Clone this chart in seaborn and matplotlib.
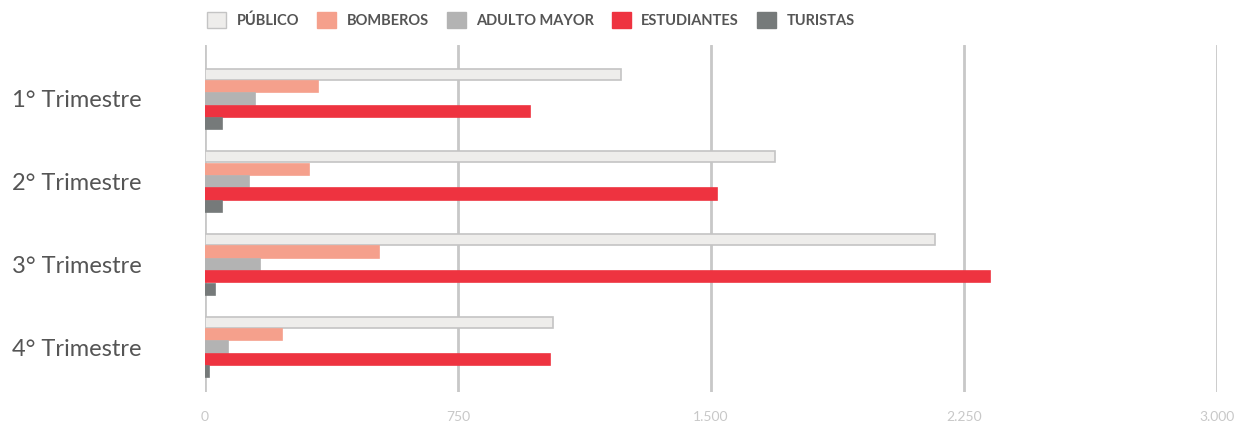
import matplotlib
matplotlib.use("Agg")
import matplotlib.pyplot as plt
from matplotlib.patches import Patch
import pandas as pd
import seaborn as sns

# Datos
trimestres = ["1° Trimestre", "2° Trimestre", "3° Trimestre", "4° Trimestre"]
series = ["PÚBLICO", "BOMBEROS", "ADULTO MAYOR", "ESTUDIANTES", "TURISTAS"]
publico = [1233, 1690, 2164, 1032]
bomberos = [335, 308, 516, 228]
adulto_mayor = [148, 130, 163, 68]
estudiantes = [963, 1518, 2327, 1023]
turistas = [50, 50, 30, 12]

colores = ["#EEEDEB", "#F5A08C", "#B3B3B3", "#EE3340", "#767A7A"]
bordes = ["#C4C4C4", "#F5A08C", "#B3B3B3", "#EE3340", "#767A7A"]
ticks = [0, 750, 1500, 2250, 3000]
tick_labels = ["0", "750", "1.500", "2.250", "3.000"]

valores = [publico, bomberos, adulto_mayor, estudiantes, turistas]
df = pd.DataFrame([
    {"trimestre": t, "serie": s, "valor": v[i]}
    for s, v in zip(series, valores)
    for i, t in enumerate(trimestres)
])

sns.set_theme(style="white")
plt.rcParams["font.family"] = ["Lato", "DejaVu Sans"]

fig = plt.figure(figsize=(12.37, 4.25), dpi=100)
ax = fig.add_axes([205 / 1237, 1 - 392 / 425, 1012 / 1237, 347 / 425])

sns.barplot(data=df, x="valor", y="trimestre", hue="serie", order=trimestres,
            hue_order=series, palette=colores, orient="h", width=0.75,
            gap=0.1, saturation=1, legend=False, ax=ax, zorder=3)

# bordes de las barras por serie
for cont, borde in zip(ax.containers, bordes):
    for bar in cont:
        bar.set_edgecolor(borde)
        bar.set_linewidth(1.2)

ax.set_xlim(0, 3000)
ax.set_ylim(3.544, -0.653)
ax.set_xticks(ticks)
ax.set_xticklabels(tick_labels)
ax.grid(axis="x", color="#C8C8C8", linewidth=2)
ax.grid(axis="y", visible=False)
ax.set_axisbelow(True)
for sp in ax.spines.values():
    sp.set_visible(False)

ax.set_xlabel("")
ax.set_ylabel("")
ax.tick_params(axis="x", length=0, pad=14, labelsize=10, labelcolor="#C8C8C8")
ax.tick_params(axis="y", length=0, pad=0, labelsize=17, labelcolor="#555555")
for lbl in ax.get_yticklabels():
    lbl.set_horizontalalignment("left")
    lbl.set_x(-193 / 1012)

handles = [Patch(facecolor=c, edgecolor=b, linewidth=1) for c, b in zip(colores, bordes)]
fig.legend(handles, series, loc="center", bbox_to_anchor=(531 / 1237, 1 - 20 / 425),
           ncol=5, frameon=False, handlelength=1.3, handleheight=1.3,
           handletextpad=0.7, columnspacing=1.25,
           prop={"size": 10.5, "weight": "bold"}, labelcolor="#555555")

fig.savefig("out.png", dpi=100)
